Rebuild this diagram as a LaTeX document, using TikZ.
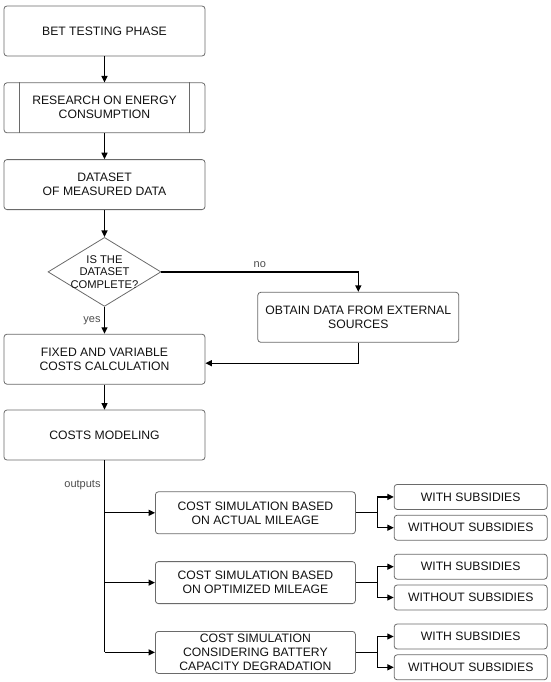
\documentclass[tikz,border=0pt]{standalone}
\usepackage{fontspec}
\setmainfont{Liberation Sans}
\usepackage{tikz}
\usepackage{xcolor}
\usetikzlibrary{arrows.meta,positioning,shapes.geometric}
\definecolor{flowgray}{HTML}{6A6A6A}
\definecolor{flowtext}{HTML}{111111}
\tikzset{
  mainbox/.style={draw=flowgray, rounded corners=3pt, line width=0.8pt, align=center, text=flowtext, inner sep=2pt, minimum width=201pt, minimum height=50pt, font=\fontsize{12.2}{14}\selectfont},
  decision/.style={diamond, draw=flowgray, line width=0.8pt, align=center, text=flowtext, aspect=1.64, inner sep=-4pt, minimum width=113pt, minimum height=69pt, font=\fontsize{11.2}{12.5}\selectfont},
  simbox/.style={mainbox, minimum width=200pt, minimum height=42pt},
  subbox/.style={mainbox, minimum width=153pt, minimum height=25pt, inner sep=1pt},
  flow/.style={-{Triangle[length=6.5pt,width=6pt]}, line width=1.3pt, draw=black},
  trunk/.style={line width=1.3pt, draw=black},
  info/.style={font=\fontsize{11}{13}\selectfont, text=black!70}
}

\begin{document}
\begin{tikzpicture}
  \useasboundingbox (0,0) rectangle (550pt,-682pt);
  \node[mainbox] (bet) at (104.5pt,-31pt) {BET TESTING PHASE};
  \node[mainbox, below=26pt of bet] (research) {RESEARCH ON ENERGY\\CONSUMPTION};
  \draw[flowgray, line width=0.8pt] ([xshift=16pt]research.north west) -- ([xshift=16pt]research.south west);
  \draw[flowgray, line width=0.8pt] ([xshift=-16pt]research.north east) -- ([xshift=-16pt]research.south east);
  \node[mainbox, below=26pt of research] (dataset) {DATASET\\OF MEASURED DATA};
  \node[decision, below=27pt of dataset] (check) {IS THE\\DATASET\\COMPLETE?};
  \node[mainbox, below=27pt of check] (fixed) {FIXED AND VARIABLE\\COSTS CALCULATION};
  \node[mainbox, below right=20pt and 96pt of check.east] (external) {OBTAIN DATA FROM EXTERNAL\\SOURCES};
  \node[mainbox, below=25pt of fixed] (costs) {COSTS MODELING};
  \node[simbox, below right=31pt and 50.5pt of costs.south] (simA) {COST SIMULATION BASED\\ON ACTUAL MILEAGE};
  \node[simbox, below=27pt of simA] (simB) {COST SIMULATION BASED\\ON OPTIMIZED MILEAGE};
  \node[simbox, below=27pt of simB] (simC) {COST SIMULATION\\CONSIDERING BATTERY\\CAPACITY DEGRADATION};
  \node[subbox, above right=3pt and 38pt of simA.east] (withA) {WITH SUBSIDIES};
  \node[subbox, below=5pt of withA] (withoutA) {WITHOUT SUBSIDIES};
  \node[subbox, above right=3pt and 38pt of simB.east] (withB) {WITH SUBSIDIES};
  \node[subbox, below=5pt of withB] (withoutB) {WITHOUT SUBSIDIES};
  \node[subbox, above right=3pt and 38pt of simC.east] (withC) {WITH SUBSIDIES};
  \node[subbox, below=5pt of withC] (withoutC) {WITHOUT SUBSIDIES};

  % main column
  \draw[flow] (bet) -- (research);
  \draw[flow] (research) -- (dataset);
  \draw[flow] (dataset) -- (check);
  \draw[flow] (check) -- node[left,info]{yes} (fixed);
  \draw[flow] (check.east) -| node[pos=0.25,above,info]{no} (external.north);
  \draw[flow] (external.south) |- ([yshift=-4pt]fixed.east);
  \draw[flow] (fixed) -- (costs);

  % outputs
  \draw[trunk] (costs.south) -- node[pos=0.13,left,info]{outputs} (costs.south |- simC.west);
  \foreach \s in {simA,simB,simC}
    \draw[flow] (costs.south |- \s.west) -- (\s.west);

  % subsidies split
  \foreach \s/\w/\wo in {simA/withA/withoutA,simB/withB/withoutB,simC/withC/withoutC}{
    \draw[trunk] (\s.east) -- ++(22pt,0) coordinate (\s-split);
    \draw[flow] (\s-split) |- (\w.west);
    \draw[flow] (\s-split) |- (\wo.west);
  }
\end{tikzpicture}
\end{document}
